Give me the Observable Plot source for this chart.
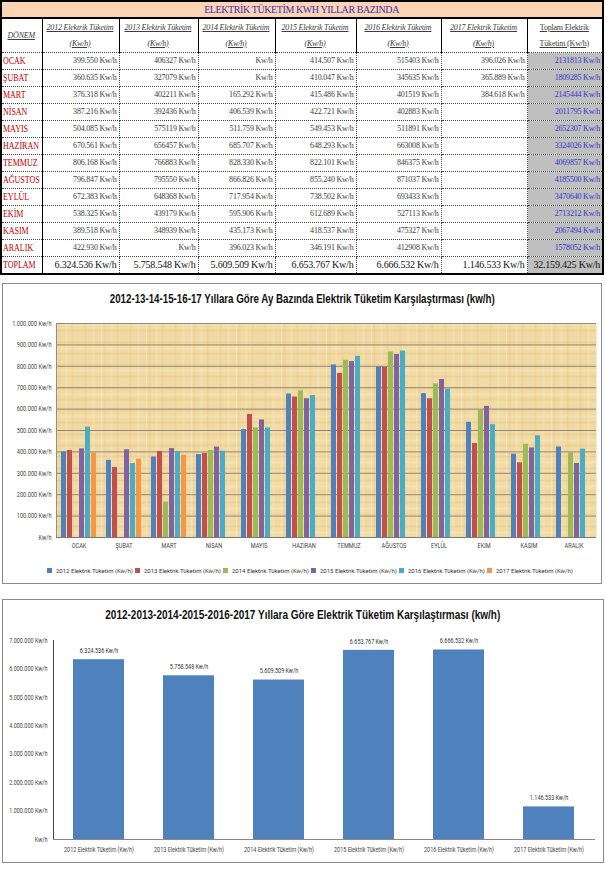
<!DOCTYPE html>
<html><head><meta charset="utf-8">
<script src="https://cdn.jsdelivr.net/npm/d3@7"></script>
<script src="https://cdn.jsdelivr.net/npm/@observablehq/plot@0.6"></script>
<style>
body{margin:0;background:#fff;width:605px;height:896px;position:relative;overflow:hidden;}
#tbl{position:absolute;left:0;top:0;}
#tbl table{border-collapse:collapse;table-layout:fixed;width:603px;border:2px solid #000;font-family:"Liberation Serif","DejaVu Serif",serif;}
#tbl td{border:1px dotted #444;padding:0 2px 0 1px;height:16px;line-height:16px;font-size:8px;color:#3c3c3c;text-align:right;white-space:nowrap;overflow:hidden;letter-spacing:-0.2px;}
#tbl tr.title td{background:#FBD4B4;color:#3b2db5;text-align:center;font-size:10px;height:15px;line-height:15px;border:none;border-bottom:2px solid #000;letter-spacing:-0.4px;}
#tbl tr.head td{text-align:center;height:33px;line-height:16px;font-style:italic;border:1px solid #000;border-bottom:1px dotted #444;font-size:8px;}
#tbl tr.head td span{text-decoration:underline;}
#tbl td.m{color:#c00000;text-align:left;font-size:10.5px;border-right:1px solid #000;letter-spacing:0;padding-left:1px;overflow:visible;}
#tbl td.m span{display:inline-block;transform:scaleX(0.76);transform-origin:0 50%;}
#tbl td.tot{background:#BFBFBF;color:#3535c8;}
#tbl tr.sum td{font-size:10px;color:#111;}
#tbl tr.sum td.m{font-size:10.5px;color:#c00000;}
.box{position:absolute;left:2px;border:1px solid #8c8c8c;background:#fff;}
.ttl{display:flex;align-items:center;justify-content:center;font-family:"Liberation Sans","Roboto",sans-serif;font-weight:bold;color:#111;white-space:nowrap;}
.ttl span{display:inline-block;transform-origin:50% 50%;}
.legend{display:flex;padding-left:44px;height:26px;align-items:center;font-family:"Roboto",sans-serif;font-size:6px;color:#333;}
.legend div{width:88px;display:flex;align-items:center;white-space:nowrap;}
.legend i{display:inline-block;width:5px;height:5px;margin-right:4px;}
svg{display:block;}
</style></head>
<body>
<div id="tbl"></div>
<div class="box" id="c1" style="top:283px;width:598px;">
  <div class="ttl" style="height:29px;font-size:12px;"><span id="t1">2012-13-14-15-16-17  Yıllara Göre Ay Bazında Elektrik Tüketim Karşılaştırması (kw/h)</span></div>
  <div id="p1"></div>
  <div class="legend" id="lg1"></div>
</div>
<div class="box" id="c2" style="top:599px;width:600px;">
  <div class="ttl" style="height:29px;font-size:13px;"><span id="t2">2012-2013-2014-2015-2016-2017  Yıllara Göre Elektrik Tüketim Karşılaştırması (kw/h)</span></div>
  <div id="p2"></div>
  <div style="height:5px"></div>
</div>
<script>
// ---------- data ----------
const months = ["OCAK","ŞUBAT","MART","NİSAN","MAYIS","HAZİRAN","TEMMUZ","AĞUSTOS","EYLÜL","EKİM","KASIM","ARALIK"];
const years = ["2012","2013","2014","2015","2016","2017"];
const y2012 = [399550,360635,376318,387216,504085,670561,806168,796847,672383,538325,389518,422930];
const y2013 = [406327,327079,402211,392436,575119,656457,766883,795550,648368,439179,348939,null];
const y2014 = [null,null,165292,406539,511759,685707,828330,866826,717954,595906,435173,396023];
const y2015 = [414507,410047,415486,422721,549453,648293,822101,855240,738502,612689,418537,346191];
const y2016 = [515403,345635,401519,402883,511891,663008,846375,871037,693433,527113,475327,412908];
const y2017 = [396026,365889,384618,null,null,null,null,null,null,null,null,null];
const monthTotals = [2131813,1809285,2145444,2011795,2652307,3324026,4069857,4185500,3470640,2713212,2067494,1578052];
const yearTotals = [6324536,5758548,5609509,6653767,6666532,1146533];
const grandTotal = 32159425;
const seriesLabels = ["2012 Elektrik Tüketim (Kw/h)","2013 Elektrik Tüketim (Kw/h)","2014 Elektrik Tüketim (Kw/h)","2015 Elektrik Tüketim (Kw/h)","2016 Elektrik Tüketim (Kw/h)","2017 Elektrik Tüketim (Kw/h)"];
const colors = ["#4F81BD","#C0504D","#9BBB59","#8064A2","#4BACC6","#F79646"];
const series = [y2012,y2013,y2014,y2015,y2016,y2017];

const dots = n => d3.format(",")(n).replace(/,/g,".");
const plain = n => String(n);

// ---------- table ----------
(function(){
  const colW=[41,77,79,77,81,85,86,76];
  const fmtCol=[dots,plain,dots,dots,plain,dots];
  let h='<table><colgroup>'+colW.map(w=>`<col style="width:${w}px">`).join('')+'</colgroup>';
  h+='<tr class="title"><td colspan="8">ELEKTRİK TÜKETİM KWH YILLAR BAZINDA</td></tr>';
  h+='<tr class="head"><td><span>DÖNEM</span></td>'+years.map(y=>`<td><span>${y} Elektrik Tüketim</span><br><span>(Kw/h)</span></td>`).join('')+'<td style="font-style:normal"><span>Toplam Elektrik</span><br><span>Tüketim (Kw/h)</span></td></tr>';
  months.forEach((m,i)=>{
    h+=`<tr><td class="m"><span>${m}</span></td>`;
    series.forEach((s,j)=>{
      const v=s[i];
      if(j===5 && v==null) h+='<td></td>';
      else h+=`<td>${v==null?'':fmtCol[j](v)+' '}Kw/h</td>`;
    });
    h+=`<td class="tot">${plain(monthTotals[i])} Kw/h</td></tr>`;
  });
  h+='<tr class="sum"><td class="m"><span>TOPLAM</span></td>'+yearTotals.map(v=>`<td>${dots(v)} Kw/h</td>`).join('')+`<td class="tot">${dots(grandTotal)} Kw/h</td></tr>`;
  h+='</table>';
  document.getElementById('tbl').innerHTML=h;
})();

function condense(svg,f){
  svg.querySelectorAll("text").forEach(t=>{
    const w=t.getComputedTextLength();
    if(w>0){t.setAttribute("textLength",w*f);t.setAttribute("lengthAdjust","spacingAndGlyphs");}
  });
}

// ---------- chart 1 ----------
const rows=[];
months.forEach((m,i)=>years.forEach((y,j)=>{const v=series[j][i]; if(v!=null) rows.push({month:m,year:y,value:v});}));
const yTicks1=d3.range(0,1000001,100000);
const yfmt=d=>d===0?"Kw/h":dots(d)+" Kw/h";
const chart1=Plot.plot({
  width:598,height:244,
  marginLeft:50,marginRight:3,marginTop:10,marginBottom:20,
  style:{background:"transparent",fontFamily:'"Roboto",sans-serif',fontSize:"7px",color:"#444"},
  facet:{data:rows,x:"month"},
  fx:{domain:months,padding:0,label:null,tickSize:0,tickPadding:6,axis:"bottom"},
  x:{domain:years,paddingInner:0.1,paddingOuter:0.8,axis:null},
  y:{domain:[0,1000000],ticks:yTicks1,tickFormat:yfmt,label:null,tickSize:0,tickPadding:5,line:true},
  color:{domain:years,range:colors},
  marks:[
    Plot.frame({fill:"url(#parch)",stroke:"none"}),
    Plot.ruleY(yTicks1,{stroke:"#8e887c",strokeWidth:1}),
    Plot.barY(rows,{x:"year",y:"value",fill:"year"}),
    Plot.ruleY([0],{stroke:"#7a7a7a"})
  ]
});
{
  const ns="http://www.w3.org/2000/svg";
  const defs=document.createElementNS(ns,"defs");
  defs.innerHTML=`<pattern id="parch" patternUnits="userSpaceOnUse" width="46" height="46">
  <rect width="46" height="46" fill="#F1DAA3"/>
  <path d="M0 5H46M0 17H46M0 29H46M0 40H46" stroke="#DDBA78" stroke-width="1" opacity="0.5"/>
  <path d="M0 11H46M0 35H46" stroke="#F7E6BC" stroke-width="1.5" opacity="0.7"/>
  <path d="M7 0V46M20 0V46M33 0V46" stroke="#E2C083" stroke-width="1.2" opacity="0.45"/>
  <path d="M14 0V46M41 0V46" stroke="#F8E8C2" stroke-width="1" opacity="0.6"/>
  </pattern>`;
  chart1.prepend(defs);
}
document.getElementById('p1').append(chart1);
condense(chart1,0.8);
document.getElementById('lg1').innerHTML=seriesLabels.map((l,i)=>`<div><i style="background:${colors[i]}"></i>${l}</div>`).join('');

// ---------- chart 2 ----------
const totalsData=seriesLabels.map((l,i)=>({label:l,value:yearTotals[i]}));
const yTicks2=d3.range(0,7000001,1000000);
const chart2=Plot.plot({
  width:600,height:228,
  marginLeft:50,marginRight:8,marginTop:11,marginBottom:18,
  style:{background:"transparent",fontFamily:'"Roboto",sans-serif',fontSize:"7px",color:"#444"},
  x:{domain:seriesLabels,paddingInner:0.43,paddingOuter:0.215,label:null,tickSize:0,tickPadding:8},
  y:{domain:[0,7000000],ticks:yTicks2,tickFormat:yfmt,label:null,tickSize:0,tickPadding:6,line:true},
  marks:[
    Plot.barY(totalsData,{x:"label",y:"value",fill:"#4F81BD"}),
    Plot.text(totalsData,{x:"label",y:"value",text:d=>dots(d.value)+" Kw/h",dy:-9,fill:"#333",fontSize:7}),
    Plot.ruleY([0],{stroke:"#888"})
  ]
});
document.getElementById('p2').append(chart2);
condense(chart2,0.78);

// ---------- fit titles ----------
function fit(id,w){const el=document.getElementById(id);el.style.transform="none";const r=el.getBoundingClientRect().width;el.style.transform=`scaleX(${w/r})`;}
function fitAll(){fit('t1',385);fit('t2',395);}
fitAll();
if(document.fonts&&document.fonts.ready)document.fonts.ready.then(fitAll);
</script>
</body></html>
